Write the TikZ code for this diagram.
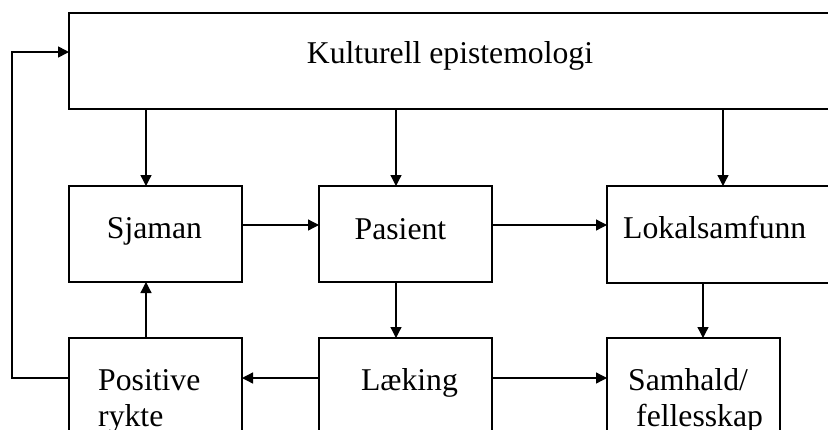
\documentclass[tikz,border=0pt]{standalone}
\usepackage{fontspec}
\setmainfont{Liberation Serif}
\usetikzlibrary{arrows.meta}
\begin{document}
\begin{tikzpicture}[x=1pt,y=-1pt,
  box/.style={draw,line width=1.6pt,minimum width=173pt,minimum height=96pt,
              anchor=north west,inner sep=0pt,outer sep=0pt},
  txt/.style={inner sep=0pt,font=\fontsize{31.7}{36}\selectfont,align=left},
  arr/.style={line width=1.3pt,-{Triangle[length=11pt,width=11pt]}}]
\useasboundingbox (0,0) rectangle (828,429);
\clip (0,0) rectangle (828,429);

% boxes
\node[box,line width=2pt,minimum width=762pt] (top) at (69,13) {};
\node[box] (sjaman)  at (69,186) {};
\node[box] (pasient) at (319,186) {};
\node[box,minimum width=240pt,minimum height=97pt] (lokal) at (607,186) {};
\node[box,minimum height=130pt] (rykte)   at (69,338) {};
\node[box,minimum height=130pt] (laking)  at (319,338) {};
\node[box,minimum height=130pt] (samhald) at (607,338) {};

% labels (two-line labels sit on the baseline of their last line)
\node[txt,anchor=base] (tTop) at (450,63) {Kulturell epistemologi};
\node[txt,anchor=base] (tSjaman) at (154.5,238) {Sjaman};
\node[txt,anchor=base] (tPasient) at (400.5,239) {Pasient};
\node[txt,anchor=base west] (tLokal) at (623,238) {Lokalsamfunn};
\node[txt,anchor=base west] (tRykte) at (98,426) {Positive\\rykte};
\node[txt,anchor=base] (tLaking) at (409.5,390) {Læking};
\node[txt,anchor=base west] (tSamhald) at (628,426) {Samhald/\\\hspace*{8pt}fellesskap};

% guide positions for the connectors
\coordinate (c1) at (146,0);
\coordinate (c2) at (396,0);
\coordinate (c3) at (723,0);
\coordinate (c4) at (703,0);
\coordinate (fb) at (12,0);
\coordinate (r1) at (0,52);
\coordinate (r2) at (0,225);
\coordinate (r3) at (0,378);

% from the top box down
\draw[arr] (top.south -| c1) -- (sjaman.north -| c1);
\draw[arr] (top.south -| c2) -- (pasient.north -| c2);
\draw[arr] (top.south -| c3) -- (lokal.north -| c3);

% middle row
\draw[arr] (sjaman.east |- r2) -- (pasient.west |- r2);
\draw[arr] (pasient.east |- r2) -- (lokal.west |- r2);

% middle row down to bottom row
\draw[arr] (pasient.south -| c2) -- (laking.north -| c2);
\draw[arr] (lokal.south -| c4) -- (samhald.north -| c4);
\draw[arr] (rykte.north -| c1) -- (sjaman.south -| c1);

% bottom row
\draw[arr] (laking.west |- r3) -- (rykte.east |- r3);
\draw[arr] (laking.east |- r3) -- (samhald.west |- r3);

% feedback loop
\draw[arr,line width=1.6pt] (rykte.west |- r3) -- (fb |- r3) -- (fb |- r1) -- (top.west |- r1);
\end{tikzpicture}
\end{document}
